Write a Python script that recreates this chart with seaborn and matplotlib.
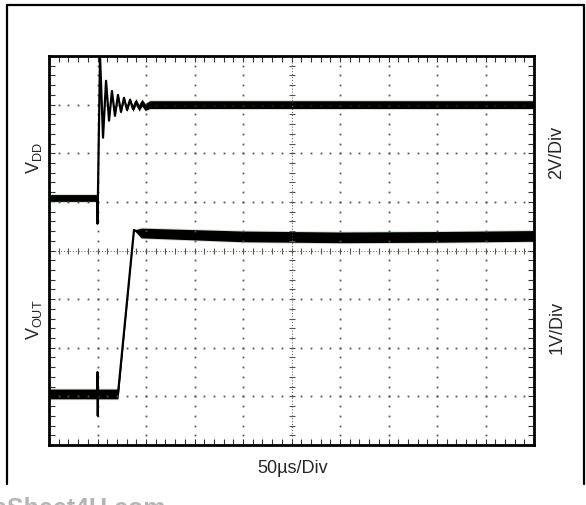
import numpy as np
import seaborn as sns
import matplotlib.pyplot as plt
from matplotlib.lines import Line2D

# time axis in microseconds (50us/Div, 10 divisions), y in screen divisions (8)
vdd_t = [0, 49.5, 50.0, 52.6, 55.7, 58.8, 61.9, 64.9, 68.0, 71.1, 74.2, 77.3,
         80.4, 83.5, 86.6, 89.7, 92.8, 95.9, 99.0, 104, 500]
vdd_v = [5.08, 5.08, 4.55, 8.0, 6.32, 7.49, 6.67, 7.28, 6.77, 7.20, 6.85, 7.14,
         6.89, 7.10, 6.91, 7.06, 6.93, 7.04, 6.95, 7.0, 7.0]
vdd_noise = [0.07, 0.07, 0, 0, 0, 0, 0, 0, 0.01, 0.02, 0.02, 0.03,
             0.03, 0.04, 0.05, 0.06, 0.06, 0.07, 0.07, 0.08, 0.08]

vout_t = [0, 49.8, 50.0, 50.3, 50.5, 71.1, 87.6, 95, 200, 300, 400, 500]
vout_v = [1.05, 1.05, 1.5, 0.6, 1.05, 1.05, 4.42, 4.36, 4.29, 4.27, 4.28, 4.30]
vout_noise = [0.1, 0.1, 0, 0, 0.1, 0.1, 0, 0.1, 0.11, 0.11, 0.11, 0.11]

x_label = '50µs/Div'
vdd_label = r'V$_{\mathrm{DD}}$'
vout_label = r'V$_{\mathrm{OUT}}$'
vdd_scale = '2V/Div'
vout_scale = '1V/Div'

sns.set_style('white')
plt.rcParams['font.family'] = ['Liberation Sans', 'DejaVu Sans']
plt.rcParams['mathtext.fontset'] = 'custom'
plt.rcParams['mathtext.rm'] = 'Liberation Sans'

W, H = 586, 506
fig = plt.figure(figsize=(W / 100, H / 100), dpi=100)
ax = fig.add_axes([49 / W, 1 - 446 / H, 485 / W, 389 / H])
ax.set_xlim(0, 500)
ax.set_ylim(0, 8)

# graticule: dotted lines at each division
minor_x = np.arange(0, 501, 10)
minor_y = np.arange(0, 8.01, 0.2)
for gx in range(50, 500, 50):
    if gx == 250:
        continue
    ax.plot(np.full_like(minor_y, gx), minor_y, ls='none', marker='s', ms=1.3,
            color='#555555', mew=0)
for gy in range(1, 8):
    if gy == 4:
        continue
    ax.plot(minor_x, np.full_like(minor_x, gy, dtype=float), ls='none', marker='s',
            ms=1.3, color='#555555', mew=0)
# centre cross with small ticks
ax.axvline(250, color='#555555', lw=0.7, ls=(0, (1, 2)))
ax.axhline(4, color='#555555', lw=0.7, ls=(0, (1, 2)))
ax.plot(np.full_like(minor_y, 250), minor_y, ls='none', marker='_', ms=5,
        color='#555555', mew=0.8)
ax.plot(minor_x, np.full_like(minor_x, 4, dtype=float), ls='none', marker='|',
        ms=5, color='#555555', mew=0.8)

# traces
for t, v, n in [(vdd_t, vdd_v, vdd_noise), (vout_t, vout_v, vout_noise)]:
    t = np.array(t)
    v = np.array(v)
    n = np.array(n)
    ax.fill_between(t, v - n - 0.02, v + n + 0.02, color='#cfe3cf', lw=0)
    ax.fill_between(t, v - n, v + n, color='black', lw=0)
    sns.lineplot(x=t, y=v, ax=ax, color='black', lw=1.6, sort=False)

ax.set_xticks(np.arange(0, 501, 50))
ax.set_yticks(np.arange(0, 9, 1))
ax.set_xticks(minor_x, minor=True)
ax.set_yticks(minor_y, minor=True)
ax.tick_params(which='both', direction='in', top=True, right=True, bottom=True,
               left=True, labelbottom=False, labelleft=False, length=4,
               width=0.8, color='#333333')
for s in ax.spines.values():
    s.set_linewidth(2)
    s.set_color('black')
ax.set_xlabel('')
ax.set_ylabel('')

# labels
fs = 13
fig.text(293 / W, 1 - 469 / H, x_label, ha='center', va='center', fontsize=fs)
fig.text(34 / W, 1 - 158 / H, vdd_label, ha='center', va='center',
         rotation=90, fontsize=fs)
fig.text(34 / W, 1 - 320 / H, vout_label, ha='center', va='center',
         rotation=90, fontsize=fs)
fig.text(557 / W, 1 - 152 / H, vdd_scale, ha='center', va='center',
         rotation=90, fontsize=fs)
fig.text(557 / W, 1 - 327 / H, vout_scale, ha='center', va='center',
         rotation=90, fontsize=fs)

# frame of the figure box
box = dict(color='black', lw=1.6, transform=fig.transFigure)
fig.add_artist(Line2D([7 / W, 7 / W], [1 - 6 / H, 1 - 485 / H], **box))
fig.add_artist(Line2D([7 / W, 584 / W], [1 - 6 / H, 1 - 6 / H], **box))
fig.add_artist(Line2D([584 / W, 584 / W], [1 - 6 / H, 1 - 485 / H], **box))

# watermark, cut off at the bottom and left edges as in the source page
fig.text(166 / W, 1 - 497 / H, 'DataSheet4U.com', ha='right', va='top',
         fontsize=18, fontweight='bold', color='#b5b5b5')

fig.savefig('out.png', dpi=100)
